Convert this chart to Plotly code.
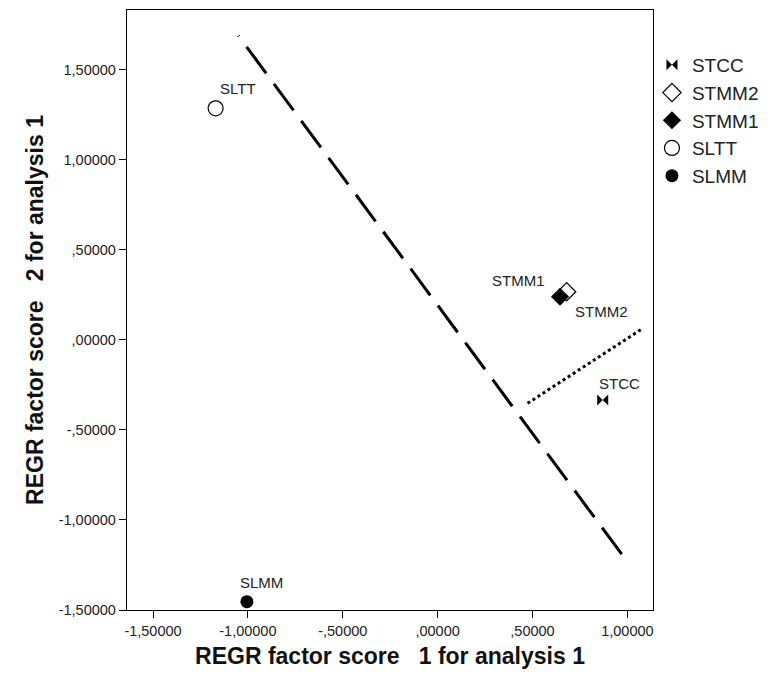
import plotly.graph_objects as go

# Factor scores for each group (factor 1, factor 2)
groups = ["STCC", "STMM2", "STMM1", "SLTT", "SLMM"]
score1 = [0.87, 0.68, 0.645, -1.17, -1.005]
score2 = [-0.333, 0.268, 0.24, 1.287, -1.454]

# Discriminating lines
dash_x = [0.97, -1.05]
dash_y = [-1.19, 1.69]
dot_x = [0.474, 1.082]
dot_y = [-0.352, 0.065]

tick_vals = [-1.5, -1.0, -0.5, 0.0, 0.5, 1.0, 1.5]
tick_text = ["-1,50000", "-1,00000", "-,50000", ",00000", ",50000", "1,00000", "1,50000"]

symbols = {
    "STCC": dict(symbol="bowtie", color="black", size=11, line=dict(width=0)),
    "STMM2": dict(symbol="diamond-open", color="black", size=14, line=dict(width=1.2)),
    "STMM1": dict(symbol="diamond", color="black", size=14, line=dict(width=0)),
    "SLTT": dict(symbol="circle-open", color="black", size=15, line=dict(width=1.2)),
    "SLMM": dict(symbol="circle", color="black", size=13, line=dict(width=0)),
}
# label offsets (px) relative to the marker
label_shift = {
    "STCC": (17, 16),
    "STMM2": (35, -20),
    "STMM1": (-42, 16),
    "SLTT": (22, 20),
    "SLMM": (15, 19),
}

FONT = "Arial, Liberation Sans"

fig = go.Figure()

fig.add_trace(go.Scatter(x=dash_x, y=dash_y, mode="lines", showlegend=False,
                         line=dict(color="black", width=3, dash="33px,13px"),
                         hoverinfo="skip"))
fig.add_trace(go.Scatter(x=dot_x, y=dot_y, mode="lines", showlegend=False,
                         line=dict(color="black", width=3, dash="3px,3px"),
                         hoverinfo="skip"))

for g, x, y in zip(groups, score1, score2):
    fig.add_trace(go.Scatter(x=[x], y=[y], mode="markers", name=g,
                             marker=symbols[g]))
    dx, dy = label_shift[g]
    fig.add_annotation(x=x, y=y, text=g, showarrow=False, xshift=dx, yshift=dy,
                       font=dict(family=FONT, size=15, color="#222"))

axis_common = dict(
    showline=True, linecolor="black", linewidth=1.3, mirror=True,
    ticks="outside", ticklen=7, tickcolor="black", tickwidth=1.3,
    showgrid=False, zeroline=False,
    tickvals=tick_vals, ticktext=tick_text,
    tickfont=dict(family=FONT, size=14.5, color="#222"),
)

fig.update_layout(
    width=774, height=682,
    margin=dict(l=127, r=111, t=10, b=72),
    paper_bgcolor="white", plot_bgcolor="white",
    font=dict(family=FONT, color="black"),
    xaxis=dict(range=[-1.637, 1.135],
               title=dict(text="<b>REGR factor score\u00a0\u00a0\u00a01 for analysis 1</b>",
                          font=dict(size=23, color="#111"), standoff=10),
               **axis_common),
    yaxis=dict(range=[-1.5, 1.833],
               title=dict(text="<b>REGR factor score\u00a0\u00a0\u00a02 for analysis 1</b>",
                          font=dict(size=23, color="#111"), standoff=8),
               **axis_common),
    legend=dict(x=0.998, y=0.94, xanchor="left", yanchor="top",
                font=dict(family=FONT, size=19, color="#222"),
                tracegroupgap=0, itemwidth=30, bgcolor="rgba(0,0,0,0)"),
)

fig.write_html("out.html")
